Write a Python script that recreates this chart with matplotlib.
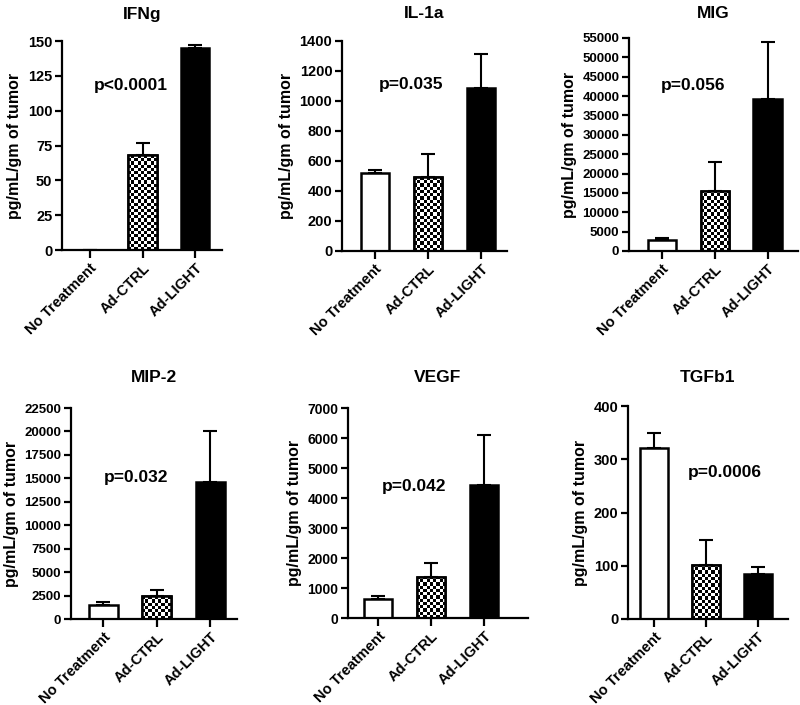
import numpy as np
import matplotlib
matplotlib.use("Agg")
import matplotlib.pyplot as plt

plt.rcParams['font.family'] = ['Liberation Sans', 'DejaVu Sans']
plt.rcParams['font.weight'] = 'bold'

groups = ["No Treatment", "Ad-CTRL", "Ad-LIGHT"]
titles = ["IFNg", "IL-1a", "MIG", "MIP-2", "VEGF", "TGFb1"]

ifng_mean = [0, 68, 145]
ifng_err = [0, 9, 2]
il1a_mean = [520, 490, 1085]
il1a_err = [20, 155, 230]
mig_mean = [2800, 15500, 39300]
mig_err = [500, 7500, 14700]
mip2_mean = [1500, 2400, 14600]
mip2_err = [300, 700, 5500]
vegf_mean = [650, 1370, 4450]
vegf_err = [80, 460, 1650]
tgfb1_mean = [322, 102, 84]
tgfb1_err = [28, 46, 13]

means = [ifng_mean, il1a_mean, mig_mean, mip2_mean, vegf_mean, tgfb1_mean]
errs = [ifng_err, il1a_err, mig_err, mip2_err, vegf_err, tgfb1_err]

pvals = ["p<0.0001", "p=0.035", "p=0.056", "p=0.032", "p=0.042", "p=0.0006"]
p_pos = [(0.77, 118), (0.69, 1107), (0.58, 42860), (0.61, 15036), (0.68, 4400), (1.37, 276)]

yticks = [np.arange(0, 151, 25), np.arange(0, 1401, 200), np.arange(0, 55001, 5000),
          np.arange(0, 22501, 2500), np.arange(0, 7001, 1000), np.arange(0, 401, 100)]

W, H = 800, 705
# axes pixel boxes: left, right, top, bottom
boxes = [(62, 222, 41, 250), (342, 507, 41, 251), (629, 798, 38, 251),
         (71, 237, 408, 619), (348, 528, 408, 618), (628, 788, 406, 619)]
title_y = [14, 14, 13, 378, 378, 378]
xlims = [(-0.53, 2.51), (-0.62, 2.49), (-0.62, 2.57), (-0.6, 2.5), (-0.57, 2.83), (-0.5, 2.58)]
tick_fs = [10.5, 10.5, 9.5, 9.5, 10, 10.5]

fig = plt.figure(figsize=(W / 100, H / 100), dpi=100)
fig.patch.set_facecolor('white')

x = np.arange(len(groups))
bw = 0.54
cell = 3.2

for i in range(6):
    l, r, t, b = boxes[i]
    ax = fig.add_axes([l / W, 1 - b / H, (r - l) / W, (b - t) / H])
    ax.set_xlim(*xlims[i])
    ax.set_ylim(0, yticks[i][-1])
    ax.set_yticks(yticks[i])
    ax.set_xticks(x)
    ax.set_xticklabels(groups, rotation=45, ha='right', rotation_mode='anchor', fontsize=10.5, fontweight='bold')
    for lab in ax.get_yticklabels():
        lab.set_fontsize(tick_fs[i])
        lab.set_fontweight('bold')
    for s in ['top', 'right']:
        ax.spines[s].set_visible(False)
    for s in ['left', 'bottom']:
        ax.spines[s].set_linewidth(1.6)
    ax.tick_params(axis='both', direction='out', width=1.6, length=5, pad=2)
    ax.tick_params(axis='x', length=6)

    m = means[i]
    e = errs[i]
    ax.errorbar(x, m, yerr=[np.zeros(3), e], fmt='none', ecolor='black', elinewidth=1.5,
                capsize=5, capthick=1.5, zorder=1)
    bars = ax.bar(x, m, width=bw, color=['white', 'white', 'black'], edgecolor='black',
                  linewidth=1.8, zorder=2)
    # checkerboard fill for Ad-CTRL
    p = bars[1]
    if p.get_height() > 0:
        x0, y0 = p.get_x(), p.get_y()
        x1, y1 = x0 + p.get_width(), y0 + p.get_height()
        (px0, py0), (px1, py1) = ax.transData.transform([(x0, y0), (x1, y1)])
        nx = max(1, int(round((px1 - px0) / cell)))
        ny = max(1, int(round((py1 - py0) / cell)))
        board = (np.add.outer(np.arange(ny), np.arange(nx)) % 2).astype(float)
        im = ax.imshow(board, cmap='gray', extent=[x0, x1, y0, y1], aspect='auto',
                       interpolation='nearest', zorder=2.5, origin='lower')
        im.set_clip_path(p)
        ax.bar([x[1]], [m[1]], width=bw, color='none', edgecolor='black', linewidth=1.8, zorder=3)
        ax.set_xlim(*xlims[i])
        ax.set_ylim(0, yticks[i][-1])

    ax.text(p_pos[i][0], p_pos[i][1], pvals[i], ha='center', va='center', fontsize=12.5, fontweight='bold')
    fig.text((l + r) / 2 / W, 1 - title_y[i] / H, titles[i], ha='center', va='center',
             fontsize=12.5, fontweight='bold')
    ax.set_ylabel("pg/mL/gm of tumor", fontsize=11.5, fontweight='bold', labelpad=4)

fig.savefig("out.png", dpi=100, facecolor='white')
